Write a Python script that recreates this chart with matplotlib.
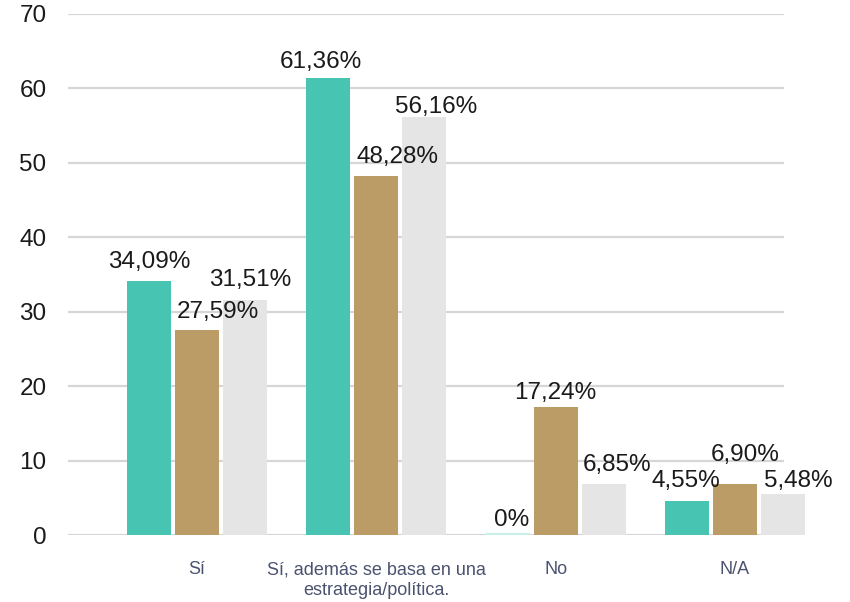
import matplotlib
matplotlib.use("Agg")
import matplotlib.pyplot as plt
import numpy as np

categories = ["Sí", "Sí, además se basa en una\nestrategia/política.", "No", "N/A"]
series_a = [34.09, 61.36, 0.0, 4.55]
series_b = [27.59, 48.28, 17.24, 6.90]
series_c = [31.51, 56.16, 6.85, 5.48]
labels_a = ["34,09%", "61,36%", "0%", "4,55%"]
labels_b = ["27,59%", "48,28%", "17,24%", "6,90%"]
labels_c = ["31,51%", "56,16%", "6,85%", "5,48%"]
yticks = [0, 10, 20, 30, 40, 50, 60, 70]

colors = ["#47C4B2", "#BC9C66", "#E5E5E5"]

# label placement offsets in pixels (dx, baseline gap above bar), per series
label_offsets = [
    [(0, 13), (-7, 10), (4, 9), (-1, 14)],
    [(21, 12), (21, 13), (0, 8), (10, 23)],
    [(5, 14), (12, 4), (13, 13), (15, 7)],
]

plt.rcParams['font.family'] = ['Liberation Sans', 'DejaVu Sans']

fig = plt.figure(figsize=(8.5, 6.02), dpi=100)
ax = fig.add_axes([68/850, (602-535)/602, 716/850, 521/602])

x = np.arange(len(categories))
w = 44/179.3
off = 48/179.3

for i, (vals, labs, col) in enumerate(zip([series_a, series_b, series_c],
                                         [labels_a, labels_b, labels_c], colors)):
    xs = x + (i - 1) * off
    bars = ax.bar(xs, vals, width=w, color=col, clip_on=False, zorder=3)
    for j, (b, v, lab) in enumerate(zip(bars, vals, labs)):
        if v == 0:
            ax.plot([b.get_x(), b.get_x() + w], [0.1, 0.1], color="#c9efe9",
                    lw=1.5, clip_on=False, zorder=3, solid_capstyle='butt')
        dx, dy = label_offsets[i][j]
        ax.annotate(lab, (b.get_x() + w/2, v), xytext=(dx, dy),
                    textcoords="offset pixels", ha="center", va="baseline",
                    fontsize=17.5, color="#1a1a1a", zorder=4)

ax.set_xlim((68-197)/179.3, (784-197)/179.3)
ax.set_ylim(0, 70)
ax.set_yticks(yticks)
ax.set_yticklabels([str(t) for t in yticks], fontsize=17.5, color="#1a1a1a")
ax.yaxis.grid(True, color="#d6d6d6", lw=1.6, zorder=0)
ax.set_axisbelow(True)
ax.tick_params(axis='y', length=0, pad=15.5)
ax.tick_params(axis='x', length=0, pad=19)
ax.set_xticks(x)
ax.set_xticklabels(categories, fontsize=13, color="#4b5270", linespacing=1.3, va='top')
for s in ax.spines.values():
    s.set_visible(False)

fig.savefig("out.png", dpi=100)
